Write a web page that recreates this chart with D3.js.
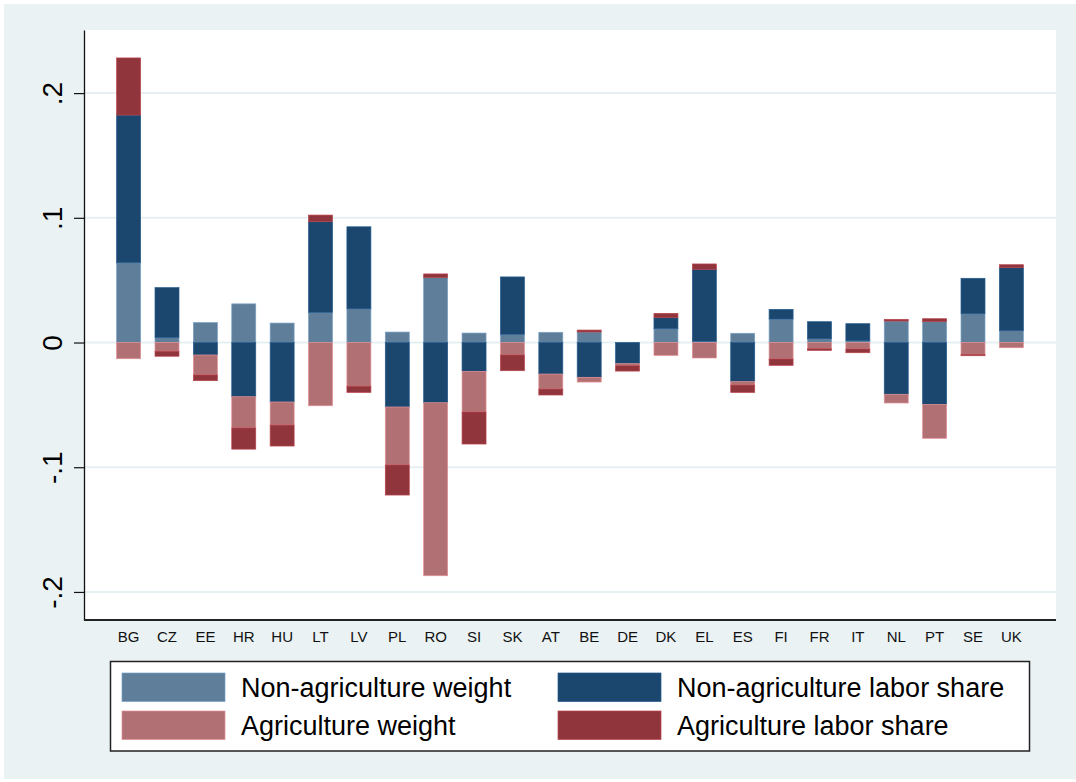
<!DOCTYPE html>
<html>
<head>
<meta charset="utf-8">
<script src="https://cdn.jsdelivr.net/npm/d3@7"></script>
<style>
  body { margin: 0; background: #fff; }
  svg { display: block; font-family: "Liberation Sans", Arial, sans-serif; }
</style>
</head>
<body>
<svg id="chart" width="1076" height="782"></svg>
<script>
// categories
var countries = ["BG","CZ","EE","HR","HU","LT","LV","PL","RO","SI","SK","AT",
                 "BE","DE","DK","EL","ES","FI","FR","IT","NL","PT","SE","UK"];

// series values
var nonagWeight = [0.064, 0.004, 0.016, 0.031, 0.0156, 0.0242, 0.027, 0.0084, 0.052, 0.0076, 0.0066, 0.0082,
                   0.0084, 0.0, 0.0111, 0.001, 0.0074, 0.0188, 0.003, 0.0014, 0.0172, 0.0167, 0.0231, 0.0095];
var nonagLabor  = [0.1184, 0.040, -0.010, -0.0435, -0.0477, 0.0727, 0.0658, -0.0517, -0.0483, -0.0231, 0.046, -0.0253,
                   -0.0279, -0.017, 0.0088, 0.0577, -0.0314, 0.0078, 0.0137, 0.0137, -0.0415, -0.0496, 0.0284, 0.0505];
var agWeight    = [-0.013, -0.007, -0.016, -0.025, -0.0185, -0.0507, -0.035, -0.0465, -0.1387, -0.0326, -0.010, -0.012,
                   -0.0038, -0.0016, -0.0103, -0.0124, -0.0027, -0.0132, -0.005, -0.0052, -0.007, -0.0272, -0.0095, -0.0042];
var agLabor     = [0.0458, -0.004, -0.0046, -0.017, -0.0168, 0.0053, -0.005, -0.0241, 0.003, -0.0257, -0.0126, -0.0048,
                   0.0016, -0.0043, 0.0035, 0.0043, -0.0059, -0.0051, -0.0013, -0.003, 0.0014, 0.0024, -0.0011, 0.0024];

var seriesKeys   = ["nonagWeight", "nonagLabor", "agWeight", "agLabor"];
var seriesNames  = ["Non-agriculture weight", "Non-agriculture labor share", "Agriculture weight", "Agriculture labor share"];
var seriesColors = ["#5f7e9a", "#1b476f", "#b17073", "#90353c"];

var yTicks      = [0.2, 0.1, 0, -0.1, -0.2];
var yTickLabels = [".2", ".1", "0", "-.1", "-.2"];

var drawChart = function() {
  // build rows for d3.stack
  var rows = countries.map(function(c, i) {
    return { country: c, nonagWeight: nonagWeight[i], nonagLabor: nonagLabor[i],
             agWeight: agWeight[i], agLabor: agLabor[i] };
  });

  var svg = d3.select("#chart");

  // outer stata-ish background
  svg.append("rect")
    .attr("x", 4).attr("y", 4)
    .attr("width", 1072).attr("height", 775)
    .attr("fill", "#eaf2f3");

  var plotLeft = 84, plotRight = 1056, plotTop = 30, plotBottom = 620;

  svg.append("rect")
    .attr("x", plotLeft).attr("y", plotTop)
    .attr("width", plotRight - plotLeft).attr("height", plotBottom - plotTop)
    .attr("fill", "#fff");

  var x = d3.scaleBand()
    .domain(countries)
    .range([plotLeft, plotRight])
    .paddingInner(0.375)
    .paddingOuter(0.85);

  var y = d3.scaleLinear()
    .domain([-0.2225, 0.2506])
    .range([plotBottom, plotTop]);

  // gridlines
  svg.append("g")
    .selectAll("line")
    .data(yTicks)
    .enter()
    .append("line")
    .attr("x1", plotLeft).attr("x2", plotRight)
    .attr("y1", function(d) { return y(d); })
    .attr("y2", function(d) { return y(d); })
    .attr("stroke", "#e6eff1")
    .attr("stroke-width", 2);

  var stack = d3.stack()
    .keys(seriesKeys)
    .offset(d3.stackOffsetDiverging);

  var stacked = stack(rows);

  svg.append("g")
    .selectAll("g")
    .data(stacked)
    .enter()
    .append("g")
    .attr("fill", function(d, i) { return seriesColors[i]; })
    .attr("stroke", function(d, i) { return d3.color(seriesColors[i]).brighter(0.7); })
    .attr("stroke-width", 0.7)
    .selectAll("rect")
    .data(function(d) { return d; })
    .enter()
    .append("rect")
    .attr("x", function(d) { return x(d.data.country); })
    .attr("width", x.bandwidth())
    .attr("y", function(d) { return y(Math.max(d[0], d[1])); })
    .attr("height", function(d) { return Math.abs(y(d[0]) - y(d[1])); });

  // y axis
  var yAxis = d3.axisLeft(y)
    .tickValues(yTicks)
    .tickSize(10)
    .tickSizeOuter(0)
    .tickFormat(function(d, i) { return yTickLabels[i]; });

  var gy = svg.append("g")
    .attr("transform", `translate(${plotLeft},0)`)
    .call(yAxis);

  gy.select(".domain").attr("stroke", "#111").attr("stroke-width", 1.3);
  gy.selectAll(".tick line").attr("stroke", "#111").attr("stroke-width", 1.2);
  gy.selectAll(".tick text")
    .attr("x", null).attr("dy", null)
    .attr("transform", "translate(-22,0) rotate(-90)")
    .attr("text-anchor", "middle")
    .attr("font-size", 28)
    .attr("font-family", "Liberation Sans, Arial, sans-serif")
    .attr("fill", "#000");

  // bottom line of plot region
  svg.append("line")
    .attr("x1", plotLeft).attr("x2", plotRight)
    .attr("y1", plotBottom).attr("y2", plotBottom)
    .attr("stroke", "#222")
    .attr("stroke-width", 2);

  // category labels
  var xAxis = d3.axisBottom(x).tickSize(0).tickPadding(0);
  var gx = svg.append("g")
    .attr("transform", `translate(0,${plotBottom})`)
    .call(xAxis);
  gx.select(".domain").remove();
  gx.selectAll(".tick text")
    .attr("y", 22)
    .attr("dy", null)
    .attr("font-size", 15)
    .attr("font-family", "Liberation Sans, Arial, sans-serif")
    .attr("fill", "#111");

  // legend, two columns
  var legend = svg.append("g");
  legend.append("rect")
    .attr("x", 110.5).attr("y", 661.5)
    .attr("width", 919).attr("height", 89.5)
    .attr("fill", "#fff")
    .attr("stroke", "#222")
    .attr("stroke-width", 1.5);

  var colX = [122, 558];
  var rowY = [673, 711];

  seriesNames.forEach(function(name, k) {
    var col = k % 2, row = Math.floor(k / 2);
    legend.append("rect")
      .attr("x", colX[col]).attr("y", rowY[row])
      .attr("width", 103).attr("height", 28.5)
      .attr("fill", seriesColors[k])
      .attr("stroke", d3.color(seriesColors[k]).brighter(0.7))
      .attr("stroke-width", 0.7);
    legend.append("text")
      .attr("x", colX[col] + 119)
      .attr("y", rowY[row] + 23.5)
      .attr("font-size", 27)
      .attr("fill", "#000")
      .text(name);
  });
};

drawChart();
</script>
</body>
</html>
